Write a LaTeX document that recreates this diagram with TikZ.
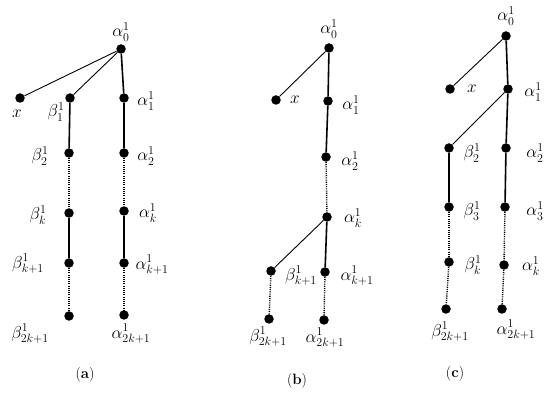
\documentclass[tikz,border=0pt]{standalone}
\usepackage{amsmath}
\usepackage{tikz}
\usetikzlibrary{positioning}

\begin{document}
\begin{tikzpicture}[x=1pt, y=-1pt,
    dot/.style={circle, fill, inner sep=0, minimum size=9.5pt},
    lbl/.style={font=\fontsize{17}{19}\selectfont, inner sep=0},
    trunk/.style={line width=1.6pt},
    twig/.style={line width=0.9pt},
    gap/.style={line width=1.4pt, dash pattern=on 1.1pt off 1.1pt},
    capt/.style={font=\fontsize{15}{17}\selectfont},
]
    \useasboundingbox (0,0) rectangle (550,393);

    % Tree (a)
    \node[dot] (a0) at (121, 49) {};
    \node[dot] (ax) at (20, 98) {};
    \node[dot] (ab1) at (70, 98) {};
    \node[dot] (aa1) at (124, 98) {};
    \node[dot] (ab2) at (69, 153) {};
    \node[dot] (aa2) at (124, 153) {};
    \node[dot] (abk) at (69, 213) {};
    \node[dot] (aak) at (124, 211) {};
    \node[dot] (abk1) at (69, 263) {};
    \node[dot] (aak1) at (124, 263) {};
    \node[dot] (abn) at (69, 316) {};
    \node[dot] (aan) at (124, 315) {};
    \node[lbl] (la0) at (121, 32) {$\alpha_0^1$};
    \node[lbl] (lax) at (17, 114) {$x$};
    \node[lbl] (lab1) at (56, 112) {$\beta_1^1$};
    \node[lbl] (laa1) at (146, 101) {$\alpha_1^1$};
    \node[lbl] (lab2) at (40, 156) {$\beta_2^1$};
    \node[lbl] (laa2) at (146, 156) {$\alpha_2^1$};
    \node[lbl] (labk) at (38, 215) {$\beta_k^1$};
    \node[lbl] (laak) at (148, 213) {$\alpha_k^1$};
    \node[lbl] (labk1) at (28, 264) {$\beta_{k+1}^1$};
    \node[lbl] (laak1) at (152, 265) {$\alpha_{k+1}^1$};
    \node[lbl] (labn) at (30, 334) {$\beta_{2k+1}^1$};
    \node[lbl] (laan) at (131, 334) {$\alpha_{2k+1}^1$};
    \node[capt] (ca) at (85, 375) {(\textbf{a})};
    \draw[twig] (a0) -- (ax);
    \draw[twig] (a0) -- (ab1);
    \draw[trunk] (a0) -- (aa1);
    \draw[trunk] (ab1) -- (ab2);
    \draw[gap] (ab2) -- (abk);
    \draw[trunk] (abk) -- (abk1);
    \draw[gap] (abk1) -- (abn);
    \draw[trunk] (aa1) -- (aa2);
    \draw[gap] (aa2) -- (aak);
    \draw[trunk] (aak) -- (aak1);
    \draw[gap] (aak1) -- (aan);

    % Tree (b)
    \node[dot] (b0) at (329, 48) {};
    \node[dot] (bx) at (276, 100) {};
    \node[dot] (ba1) at (328, 101) {};
    \node[dot] (ba2) at (326, 157) {};
    \node[dot] (bak) at (327, 217) {};
    \node[dot] (bbk1) at (271, 271) {};
    \node[dot] (bak1) at (325, 272) {};
    \node[dot] (bbn) at (269, 319) {};
    \node[dot] (ban) at (324, 320) {};
    \node[lbl] (lb0) at (329, 29) {$\alpha_0^1$};
    \node[lbl] (lbx) at (295, 100) {$x$};
    \node[lbl] (lba1) at (351, 105) {$\alpha_1^1$};
    \node[lbl] (lba2) at (350, 161) {$\alpha_2^1$};
    \node[lbl] (lbak) at (353, 218) {$\alpha_k^1$};
    \node[lbl] (lbbk1) at (301, 276) {$\beta_{k+1}^1$};
    \node[lbl] (lbak1) at (357, 276) {$\alpha_{k+1}^1$};
    \node[lbl] (lbbn) at (268, 337) {$\beta_{2k+1}^1$};
    \node[lbl] (lban) at (325, 338) {$\alpha_{2k+1}^1$};
    \node[capt] (cb) at (297, 381) {(\textbf{b})};
    \draw[twig] (b0) -- (bx);
    \draw[trunk] (b0) -- (ba1);
    \draw[trunk] (ba1) -- (ba2);
    \draw[gap] (ba2) -- (bak);
    \draw[twig] (bak) -- (bbk1);
    \draw[trunk] (bak) -- (bak1);
    \draw[gap] (bbk1) -- (bbn);
    \draw[gap] (bak1) -- (ban);

    % Tree (c)
    \node[dot] (c0) at (506, 36) {};
    \node[dot] (cx) at (450, 89) {};
    \node[dot] (ca1) at (508, 89) {};
    \node[dot] (cb2) at (449, 148) {};
    \node[dot] (ca2) at (506, 148) {};
    \node[dot] (cb3) at (449, 207) {};
    \node[dot] (ca3) at (505, 207) {};
    \node[dot] (cbk) at (449, 262) {};
    \node[dot] (cak) at (504, 265) {};
    \node[dot] (cbn) at (446, 309) {};
    \node[dot] (can) at (502, 309) {};
    \node[lbl] (lc0) at (506, 16) {$\alpha_0^1$};
    \node[lbl] (lcx) at (472, 89) {$x$};
    \node[lbl] (lca1) at (533, 92) {$\alpha_1^1$};
    \node[lbl] (lcb2) at (472, 153) {$\beta_2^1$};
    \node[lbl] (lca2) at (535, 153) {$\alpha_2^1$};
    \node[lbl] (lcb3) at (472, 211) {$\beta_3^1$};
    \node[lbl] (lca3) at (535, 211) {$\alpha_3^1$};
    \node[lbl] (lcbk) at (473, 265) {$\beta_k^1$};
    \node[lbl] (lcak) at (531, 266) {$\alpha_k^1$};
    \node[lbl] (lcbn) at (450, 332) {$\beta_{2k+1}^1$};
    \node[lbl] (lcan) at (516, 330) {$\alpha_{2k+1}^1$};
    \node[capt] (cc) at (455, 374) {(\textbf{c})};
    \draw[twig] (c0) -- (cx);
    \draw[trunk] (c0) -- (ca1);
    \draw[twig] (ca1) -- (cb2);
    \draw[trunk] (ca1) -- (ca2);
    \draw[trunk] (cb2) -- (cb3);
    \draw[trunk] (ca2) -- (ca3);
    \draw[gap] (cb3) -- (cbk);
    \draw[gap] (ca3) -- (cak);
    \draw[gap] (cbk) -- (cbn);
    \draw[gap] (cak) -- (can);
\end{tikzpicture}
\end{document}
